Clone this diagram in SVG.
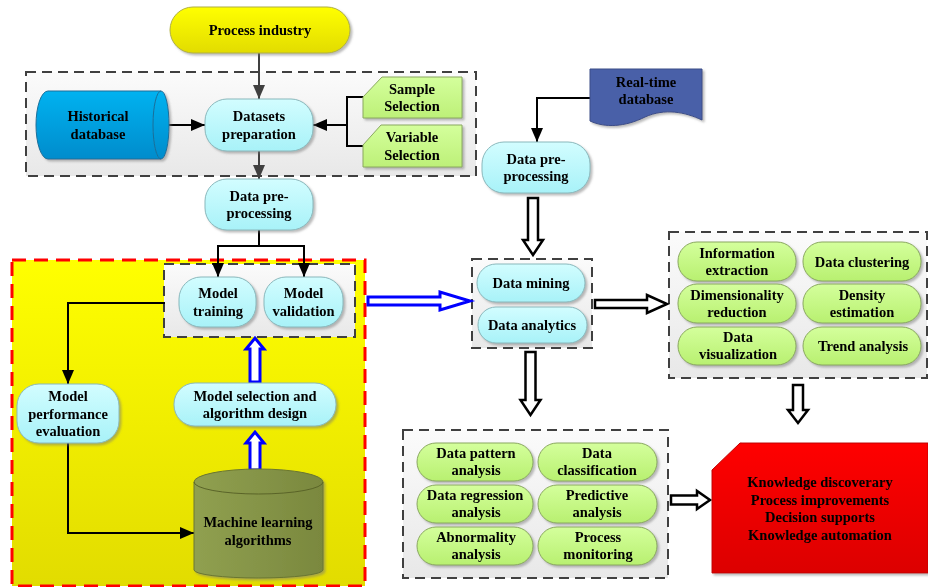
<svg xmlns="http://www.w3.org/2000/svg" width="928" height="587" viewBox="0 0 928 587">
<style>
text{font-family:"Liberation Serif","Times New Roman",serif;font-weight:bold;font-size:14.5px;fill:#000;text-anchor:middle}
.cyan{fill:url(#gCyan);stroke:#8ab8bc;stroke-width:1}
.green{fill:url(#gGreen);stroke:#8aa860;stroke-width:1}
.dash{fill:url(#gGray);stroke:#404040;stroke-width:2;stroke-dasharray:10,6}
.ln{fill:none;stroke:#000;stroke-width:2}
.hollow{fill:#fff;stroke:#000;stroke-width:2.5;stroke-linejoin:miter}
.blue{fill:#fff;stroke:#0000ff;stroke-width:3}
.sh{filter:url(#shadow)}
</style>
<defs>
<linearGradient id="gCyan" x1="0" y1="0" x2="0" y2="1"><stop offset="0" stop-color="#d2fdff"/><stop offset="1" stop-color="#a8f2f8"/></linearGradient>
<linearGradient id="gGreen" x1="0" y1="0" x2="0" y2="1"><stop offset="0" stop-color="#d4ff9c"/><stop offset="1" stop-color="#b8f070"/></linearGradient>
<linearGradient id="gYellow" x1="0" y1="0" x2="0" y2="1"><stop offset="0" stop-color="#ffff00"/><stop offset="1" stop-color="#e2dc00"/></linearGradient>
<linearGradient id="gBig" x1="0" y1="0" x2="0" y2="1"><stop offset="0" stop-color="#ffff00"/><stop offset="1" stop-color="#e2dc00"/></linearGradient>
<linearGradient id="gGray" x1="0" y1="0" x2="0" y2="1"><stop offset="0" stop-color="#fbfbfb"/><stop offset="1" stop-color="#e8e8e8"/></linearGradient>
<linearGradient id="gRed" x1="0" y1="0" x2="0" y2="1"><stop offset="0" stop-color="#ff0000"/><stop offset="1" stop-color="#dc0000"/></linearGradient>
<linearGradient id="gBlueDb" x1="0" y1="0" x2="0" y2="1"><stop offset="0" stop-color="#00b2f0"/><stop offset="1" stop-color="#008ccc"/></linearGradient>
<linearGradient id="gOlive" x1="0" y1="0" x2="1" y2="0"><stop offset="0" stop-color="#90a050"/><stop offset="1" stop-color="#7a883e"/></linearGradient>
<linearGradient id="gSel" x1="0" y1="0" x2="0" y2="1"><stop offset="0" stop-color="#d4ff9c"/><stop offset="1" stop-color="#bdf078"/></linearGradient>
<filter id="shadow" x="-10%" y="-10%" width="130%" height="140%"><feDropShadow dx="2" dy="2" stdDeviation="1.2" flood-color="#777" flood-opacity="0.5"/></filter>
<marker id="ah" markerUnits="userSpaceOnUse" markerWidth="14" markerHeight="12" refX="14" refY="6" orient="auto"><path d="M0,0 L14,6 L0,12 z" fill="#000"/></marker>
<marker id="ahg" markerUnits="userSpaceOnUse" markerWidth="14" markerHeight="12" refX="14" refY="6" orient="auto"><path d="M0,0 L14,6 L0,12 z" fill="#404040"/></marker>
</defs>

<g id="containers">
<rect class="dash" x="26" y="72" width="450" height="104"/>
<rect x="12" y="260" width="353" height="326" fill="url(#gBig)" stroke="#ff0000" stroke-width="3" stroke-dasharray="14,8"/>
<rect class="dash" x="164" y="264" width="191" height="73"/>
<rect class="dash" x="472" y="259" width="120" height="89"/>
<rect class="dash" x="669" y="232" width="258" height="146"/>
<rect class="dash" x="403" y="430" width="265" height="148"/>
</g>

<g id="connectors">
<line x1="259" y1="53" x2="259" y2="99" stroke="#404040" stroke-width="2" marker-end="url(#ahg)"/>
<line x1="259" y1="151" x2="259" y2="179" stroke="#404040" stroke-width="2" marker-end="url(#ahg)"/>
<line class="ln" x1="168" y1="125" x2="205" y2="125" marker-end="url(#ah)"/>
<polyline class="ln" points="363,97 347,97 347,146 363,146" stroke-width="3"/>
<line class="ln" x1="347" y1="125" x2="313" y2="125" stroke-width="3" marker-end="url(#ah)"/>
<polyline class="ln" points="259,230 259,246" stroke-width="2.5"/>
<polyline class="ln" points="218,262 218,246 304,246 304,262" stroke-width="2.5"/>
<line class="ln" x1="218" y1="250" x2="218" y2="277" marker-end="url(#ah)"/>
<line class="ln" x1="304" y1="250" x2="304" y2="277" marker-end="url(#ah)"/>
<polyline class="ln" points="165,303 68,303 68,384" marker-end="url(#ah)"/>
<polyline class="ln" points="68,443 68,533 194,533" marker-end="url(#ah)"/>
<polyline class="ln" points="590,98 537,98 537,142" marker-end="url(#ah)"/>
<polygon class="blue" points="368,297 440,297 440,292 470,301 440,310 440,305 368,305"/>
<polygon class="blue" points="250,382 250,349 246,349 255,338 264,349 260,349 260,382"/>
<polygon class="blue" points="250,470 250,443 246,443 255,432 264,443 260,443 260,470"/>
<polygon class="hollow" points="528,198 538,198 538,240 543,240 533,255 523,240 528,240"/>
<polygon class="hollow" points="525.5,352 535.5,352 535.5,400 540.5,400 530.5,415 520.5,400 525.5,400"/>
<polygon class="hollow" points="595,300 647,300 647,295 667,304 647,313 647,308 595,308"/>
<polygon class="hollow" points="793,385 803,385 803,410 808,410 798,423 788,410 793,410"/>
<polygon class="hollow" points="671,495.5 697,495.5 697,491 710,500 697,509 697,504.5 671,504.5"/>
</g>

<g id="process-industry" class="sh"><rect x="170" y="7" width="180" height="46" rx="23" fill="url(#gYellow)" stroke="#b0b040"/><text x="260" y="35">Process industry</text></g>

<g id="historical-database" class="sh">
<path d="M48,91 H161 A8,34 0 0 1 161,159 H48 A12,34 0 0 1 48,91 Z" fill="url(#gBlueDb)" stroke="#1a6f9a"/>
<path d="M161,91 A8,34 0 0 0 161,159" fill="none" stroke="#1a6f9a"/>
<text x="98" y="121">Historical</text><text x="98" y="138.5">database</text></g>

<g id="datasets-preparation" class="sh"><rect class="cyan" x="205" y="99" width="108" height="52" rx="22"/><text x="259" y="121">Datasets</text><text x="259" y="138.5">preparation</text></g>

<g id="sample-selection" class="sh"><path d="M382,77 H462 V118 H363 V97 Z" fill="url(#gSel)" stroke="#8aa860"/><text x="412" y="94">Sample</text><text x="412" y="111">Selection</text></g>
<g id="variable-selection" class="sh"><path d="M381,125 H462 V167 H363 V145 Z" fill="url(#gSel)" stroke="#8aa860"/><text x="412" y="142">Variable</text><text x="412" y="159.5">Selection</text></g>

<g id="data-preprocessing-1" class="sh"><rect class="cyan" x="205" y="179" width="108" height="51" rx="22"/><text x="259" y="200.5">Data pre-</text><text x="259" y="218">processing</text></g>

<g id="model-training" class="sh"><rect class="cyan" x="179" y="277" width="77" height="50" rx="22"/><text x="218" y="298">Model</text><text x="218" y="315.5">training</text></g>
<g id="model-validation" class="sh"><rect class="cyan" x="264" y="277" width="79" height="50" rx="22"/><text x="303.5" y="298">Model</text><text x="303.5" y="315.5">validation</text></g>

<g id="model-performance" class="sh"><rect class="cyan" x="17" y="384" width="102" height="59" rx="22"/><text x="68" y="401">Model</text><text x="68" y="418.5">performance</text><text x="68" y="436">evaluation</text></g>

<g id="model-selection" class="sh"><rect class="cyan" x="174" y="383" width="162" height="43" rx="21"/><text x="255" y="400.5">Model selection and</text><text x="255" y="418">algorithm design</text></g>

<g id="ml-algorithms" class="sh">
<path d="M194,482 A64.5,13 0 0 1 323,482 V570 A64.5,8 0 0 1 194,570 Z" fill="url(#gOlive)" stroke="#6a7630"/>
<path d="M194,482 A64.5,12 0 0 0 323,482" fill="none" stroke="#5a6428"/>
<text x="258" y="527">Machine learning</text><text x="258" y="544.5">algorithms</text></g>

<g id="realtime-database" class="sh">
<path d="M590,69 H702 V120 C685,112 665,108 645,117 C625,127 605,128 590,121 Z" fill="#4a60a8" stroke="#3a4c88"/>
<text x="646" y="87">Real-time</text><text x="646" y="104">database</text></g>

<g id="data-preprocessing-2" class="sh"><rect class="cyan" x="482" y="142" width="108" height="51" rx="22"/><text x="536" y="163.5">Data pre-</text><text x="536" y="181">processing</text></g>

<g id="data-mining" class="sh"><rect class="cyan" x="477" y="264" width="108" height="38" rx="19"/><text x="531" y="287.5">Data mining</text></g>
<g id="data-analytics" class="sh"><rect class="cyan" x="478" y="307" width="109" height="36" rx="18"/><text x="532" y="329.5">Data analytics</text></g>

<g id="information-extraction" class="sh"><rect class="green" x="678" y="242" width="118" height="39" rx="19"/><text x="737" y="258">Information</text><text x="737" y="275">extraction</text></g>
<g id="data-clustering" class="sh"><rect class="green" x="803" y="242" width="118" height="39" rx="19"/><text x="862" y="267">Data clustering</text></g>
<g id="dimensionality-reduction" class="sh"><rect class="green" x="678" y="284" width="118" height="39" rx="19"/><text x="737" y="300">Dimensionality</text><text x="737" y="317">reduction</text></g>
<g id="density-estimation" class="sh"><rect class="green" x="803" y="284" width="118" height="39" rx="19"/><text x="862" y="300">Density</text><text x="862" y="317">estimation</text></g>
<g id="data-visualization" class="sh"><rect class="green" x="678" y="327" width="118" height="38" rx="19"/><text x="738" y="342">Data</text><text x="738" y="359">visualization</text></g>
<g id="trend-analysis" class="sh"><rect class="green" x="803" y="327" width="118" height="38" rx="19"/><text x="863" y="351">Trend analysis</text></g>

<g id="data-pattern" class="sh"><rect class="green" x="417" y="443" width="116" height="38" rx="19"/><text x="476" y="458">Data pattern</text><text x="476" y="475">analysis</text></g>
<g id="data-classification" class="sh"><rect class="green" x="538" y="443" width="119" height="38" rx="19"/><text x="597" y="458">Data</text><text x="597" y="475">classification</text></g>
<g id="data-regression" class="sh"><rect class="green" x="417" y="485" width="116" height="38" rx="19"/><text x="475" y="500">Data regression</text><text x="476" y="517">analysis</text></g>
<g id="predictive-analysis" class="sh"><rect class="green" x="538" y="485" width="119" height="38" rx="19"/><text x="597" y="500">Predictive</text><text x="597" y="517">analysis</text></g>
<g id="abnormality-analysis" class="sh"><rect class="green" x="417" y="527" width="116" height="38" rx="19"/><text x="476" y="542">Abnormality</text><text x="476" y="559">analysis</text></g>
<g id="process-monitoring" class="sh"><rect class="green" x="538" y="527" width="119" height="38" rx="19"/><text x="598" y="542">Process</text><text x="598" y="559">monitoring</text></g>

<g id="knowledge" class="sh"><path d="M740,443 H928 V573 H712 V470 Z" fill="url(#gRed)" stroke="#c00000"/>
<text x="820" y="487">Knowledge discoverary</text><text x="820" y="504.5">Process improvements</text><text x="820" y="522">Decision supports</text><text x="820" y="539.5">Knowledge automation</text></g>
</svg>
